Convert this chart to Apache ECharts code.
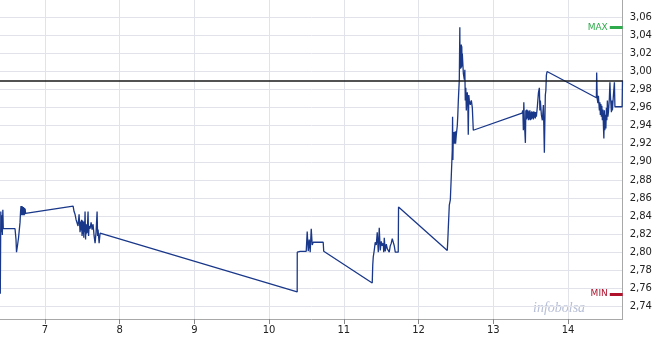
<!DOCTYPE html>
<html>
<head>
<meta charset="utf-8">
<script src="https://cdn.jsdelivr.net/npm/echarts@6/dist/echarts.min.js"></script>
<style>html,body{margin:0;padding:0;background:#fff}#c{width:661px;height:341px}</style>
</head>
<body>
<div id="c"></div>
<script>
const days = [
6.404,6.411,6.416,6.424,6.431,6.438,6.444,6.601,6.614,6.621,6.635,6.648,6.668,6.675,6.681,6.685,6.689,6.692,6.695,6.699,6.702,6.705,6.708,6.712,6.715,6.718,6.722,6.725,6.728,6.732,6.736,6.742,
7.378,7.391,7.404,7.418,7.431,7.444,7.458,7.471,7.478,7.485,7.491,7.498,7.504,7.511,7.518,7.521,7.525,7.531,7.538,7.545,7.549,7.552,7.558,7.565,7.571,7.578,7.585,7.592,7.605,7.619,7.632,7.645,7.659,7.672,7.685,7.699,7.706,7.712,7.726,7.739,
10.376,10.377,10.416,10.497,10.510,10.524,10.537,10.550,10.564,10.577,10.590,10.724,10.731,
11.380,11.387,11.394,11.407,11.420,11.434,11.447,11.461,11.474,11.487,11.501,11.514,11.527,11.534,11.541,11.554,11.568,11.581,11.594,11.608,11.621,11.635,11.648,11.661,11.675,11.688,11.728,11.732,
12.384,12.391,12.398,12.411,12.425,12.438,12.451,12.455,12.459,12.465,12.468,12.471,12.475,12.478,12.481,12.485,12.488,12.491,12.495,12.498,12.505,12.518,12.525,12.532,12.545,12.552,12.555,12.558,12.562,12.565,12.569,12.572,12.575,12.578,12.582,12.585,12.592,12.599,12.612,12.619,12.625,12.632,12.639,12.646,12.652,12.659,12.665,12.672,12.679,12.692,12.706,12.719,12.732,
13.384,13.395,13.402,13.408,13.415,13.429,13.435,13.442,13.448,13.455,13.462,13.469,13.475,13.482,13.489,13.495,13.502,13.509,13.515,13.522,13.529,13.536,13.542,13.549,13.556,13.562,13.569,13.576,13.589,13.603,13.616,13.623,13.629,13.643,13.656,13.670,13.683,13.690,13.696,13.703,13.710,13.719,
14.379,14.383,14.390,14.399,14.406,14.419,14.426,14.432,14.439,14.446,14.452,14.459,14.466,14.473,14.479,14.486,14.492,14.499,14.506,14.513,14.519,14.526,14.533,14.540,14.553,14.560,14.566,14.580,14.586,14.593,14.607,14.620,14.627,14.723,14.728
];
const prices = [
2.754,2.845,2.822,2.841,2.819,2.847,2.826,2.826,2.814,2.800,2.808,2.816,2.833,2.845,2.851,2.841,2.850,2.842,2.851,2.841,2.850,2.842,2.850,2.841,2.850,2.842,2.849,2.841,2.849,2.842,2.848,2.843,
2.851,2.845,2.842,2.836,2.838,2.829,2.842,2.822,2.834,2.824,2.836,2.818,2.835,2.820,2.834,2.816,2.833,2.822,2.845,2.814,2.830,2.820,2.831,2.821,2.830,2.845,2.818,2.829,2.826,2.833,2.825,2.831,2.818,2.810,2.822,2.845,2.818,2.825,2.810,2.821,
2.756,2.800,2.801,2.801,2.823,2.801,2.814,2.800,2.826,2.808,2.811,2.811,2.801,
2.766,2.786,2.795,2.802,2.811,2.808,2.822,2.800,2.827,2.802,2.812,2.807,2.810,2.800,2.816,2.801,2.809,2.804,2.806,2.800,2.807,2.810,2.815,2.816,2.807,2.800,2.800,2.850,
2.802,2.813,2.827,2.852,2.858,2.885,2.913,2.950,2.902,2.932,2.920,2.933,2.920,2.932,2.920,2.933,2.921,2.934,2.920,2.921,2.930,2.940,2.952,2.968,2.991,3.049,3.003,3.028,3.003,3.029,3.004,3.030,3.005,3.028,3.006,3.020,3.018,2.998,2.991,3.002,2.968,2.982,2.957,2.969,2.977,2.965,2.930,2.974,2.968,2.963,2.968,2.960,2.935,
2.954,2.957,2.935,2.966,2.946,2.921,2.957,2.947,2.958,2.948,2.957,2.946,2.956,2.947,2.957,2.946,2.955,2.947,2.956,2.948,2.955,2.947,2.956,2.949,2.955,2.948,2.955,2.950,2.961,2.976,2.982,2.957,2.968,2.952,2.946,2.963,2.910,2.946,2.974,2.979,2.996,3.000,
2.971,2.999,2.970,2.965,2.973,2.957,2.966,2.952,2.964,2.950,2.962,2.946,2.958,2.940,2.926,2.957,2.935,2.952,2.937,2.960,2.946,2.968,2.950,2.955,2.971,2.988,2.974,2.955,2.968,2.957,2.974,2.988,2.961,2.961,2.990
];
const xTicks = [7, 8, 9, 10, 11, 12, 13, 14];
const yTicks = [2.74,2.76,2.78,2.80,2.82,2.84,2.86,2.88,2.90,2.92,2.94,2.96,2.98,3.00,3.02,3.04,3.06];
const refPrice = 2.99;
const watermark = 'infobolsa';

const maxV = Math.max(...prices);
const minV = Math.min(...prices);
const seriesData = days.map((d, i) => [d, prices[i]]);
const font = '"DejaVu Sans", Verdana, sans-serif';

const chart = echarts.init(document.getElementById('c'), null, {renderer: 'canvas'});
chart.setOption({
  animation: false,
  backgroundColor: '#fff',
  grid: {left: 0, right: 38.3, top: 0, bottom: 22, containLabel: false},
  xAxis: {
    type: 'value', min: 6.400, max: 14.731,
    axisLine: {show: true, lineStyle: {color: '#a8a8a8', width: 1}},
    axisTick: {show: true, customValues: xTicks, length: 5, lineStyle: {color: '#888'}},
    axisLabel: {customValues: xTicks, color: '#222', fontSize: 10, fontFamily: font, margin: 6},
    splitLine: {show: true, lineStyle: {color: '#e2e2ea', width: 1}}
  },
  yAxis: {
    type: 'value', position: 'right', min: 2.72608, max: 3.07915, scale: true,
    axisLine: {show: true, lineStyle: {color: '#a8a8a8', width: 1}},
    axisTick: {show: false, customValues: yTicks},
    axisLabel: {customValues: yTicks, color: '#222', fontSize: 10, fontFamily: font, margin: 7,
      formatter: v => v.toFixed(2).replace('.', ',')},
    splitLine: {show: true, lineStyle: {color: '#e2e2ea', width: 1}}
  },
  graphic: [{
    type: 'text', left: 533, top: 301, silent: true,
    style: {text: watermark, font: 'italic 14px "Liberation Serif", serif', fill: '#b7bfd6'}
  }],
  series: [{
    type: 'line', data: seriesData, showSymbol: false, sampling: null,
    lineStyle: {color: '#1a388a', width: 1.3}, clip: true,
    markLine: {
      silent: true, symbol: 'none', animation: false,
      data: [
        {yAxis: refPrice, lineStyle: {color: '#1a1a1a', width: 1.5, type: 'solid'}, label: {show: false}},
        [{coord: [14.558, maxV], lineStyle: {color: '#2faa4c', width: 3, type: 'solid'},
          label: {show: true, position: 'start', distance: 2, formatter: 'MAX', color: '#2faa4c', fontSize: 9, fontFamily: font}},
         {coord: [14.731, maxV]}],
        [{coord: [14.558, minV], lineStyle: {color: '#b0122c', width: 3, type: 'solid'},
          label: {show: true, position: 'start', distance: 2, formatter: 'MIN', color: '#b0122c', fontSize: 9, fontFamily: font}},
         {coord: [14.731, minV]}]
      ]
    }
  }]
});
</script>
</body>
</html>
